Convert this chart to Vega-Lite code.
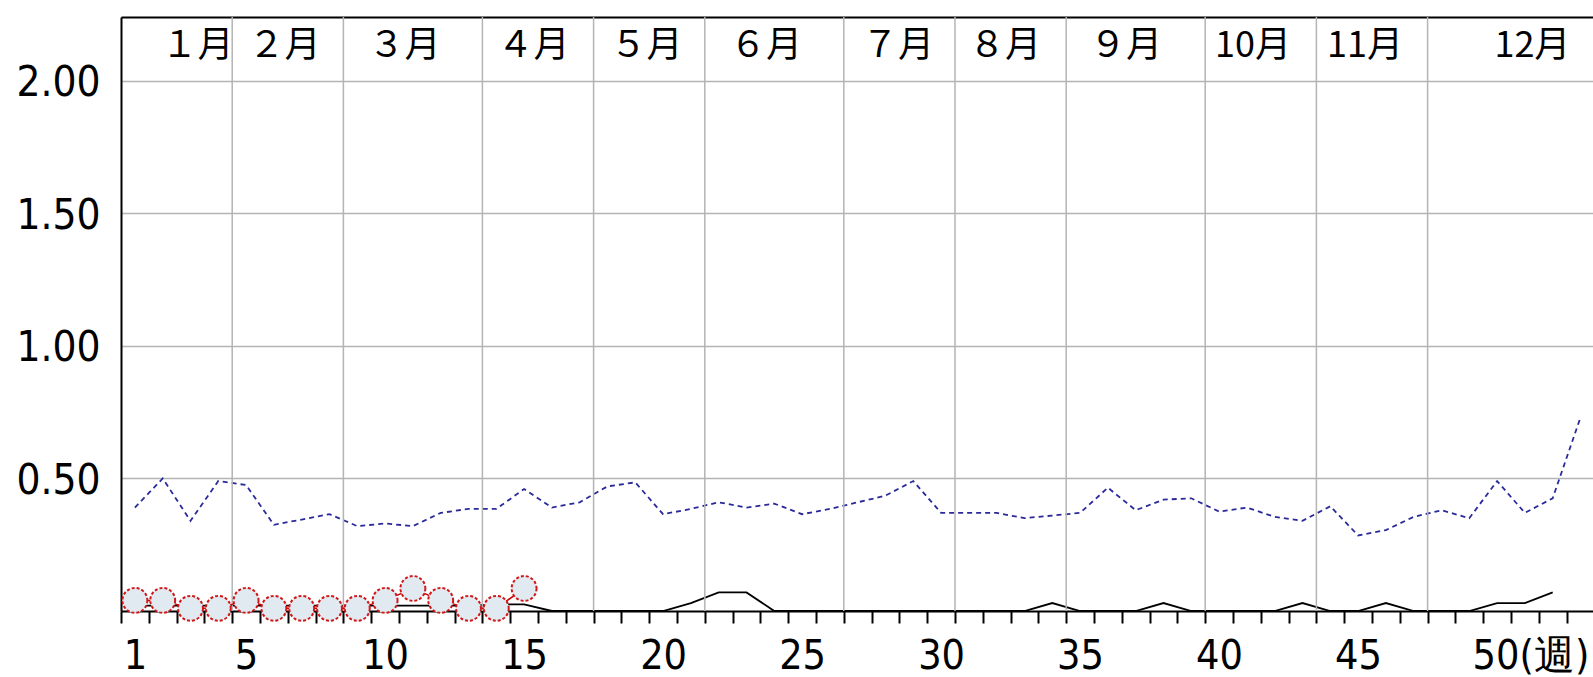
{
  "$schema": "https://vega.github.io/schema/vega-lite/v6.json",
  "width": 1472,
  "height": 594,
  "autosize": "none",
  "padding": {"left": 121, "top": 17, "right": 0, "bottom": 66},
  "background": "white",
  "config": {"view": {"stroke": null}, "axis": {"labelOverlap": false, "labelFlush": false}},
  "resolve": {"axis": {"x": "independent"}},
  "datasets": {
    "weekly": [
      {"week": 1, "avg": 0.39, "prev": 0.02},
      {"week": 2, "avg": 0.50, "prev": 0.02},
      {"week": 3, "avg": 0.34, "prev": 0.02},
      {"week": 4, "avg": 0.49, "prev": 0.02},
      {"week": 5, "avg": 0.475, "prev": 0.02},
      {"week": 6, "avg": 0.325, "prev": 0.02},
      {"week": 7, "avg": 0.345, "prev": 0.02},
      {"week": 8, "avg": 0.365, "prev": 0.02},
      {"week": 9, "avg": 0.32, "prev": 0.02},
      {"week": 10, "avg": 0.33, "prev": 0.02},
      {"week": 11, "avg": 0.32, "prev": 0.02},
      {"week": 12, "avg": 0.37, "prev": 0.02},
      {"week": 13, "avg": 0.385, "prev": 0.02},
      {"week": 14, "avg": 0.385, "prev": 0.025},
      {"week": 15, "avg": 0.46, "prev": 0.025},
      {"week": 16, "avg": 0.39, "prev": 0},
      {"week": 17, "avg": 0.41, "prev": 0},
      {"week": 18, "avg": 0.47, "prev": 0},
      {"week": 19, "avg": 0.485, "prev": 0},
      {"week": 20, "avg": 0.365, "prev": 0},
      {"week": 21, "avg": 0.385, "prev": 0.03},
      {"week": 22, "avg": 0.41, "prev": 0.07},
      {"week": 23, "avg": 0.39, "prev": 0.07},
      {"week": 24, "avg": 0.405, "prev": 0},
      {"week": 25, "avg": 0.365, "prev": 0},
      {"week": 26, "avg": 0.385, "prev": 0},
      {"week": 27, "avg": 0.41, "prev": 0},
      {"week": 28, "avg": 0.435, "prev": 0},
      {"week": 29, "avg": 0.49, "prev": 0},
      {"week": 30, "avg": 0.37, "prev": 0},
      {"week": 31, "avg": 0.37, "prev": 0},
      {"week": 32, "avg": 0.37, "prev": 0},
      {"week": 33, "avg": 0.35, "prev": 0},
      {"week": 34, "avg": 0.36, "prev": 0.03},
      {"week": 35, "avg": 0.37, "prev": 0},
      {"week": 36, "avg": 0.465, "prev": 0},
      {"week": 37, "avg": 0.38, "prev": 0},
      {"week": 38, "avg": 0.42, "prev": 0.03},
      {"week": 39, "avg": 0.425, "prev": 0},
      {"week": 40, "avg": 0.375, "prev": 0},
      {"week": 41, "avg": 0.39, "prev": 0},
      {"week": 42, "avg": 0.355, "prev": 0},
      {"week": 43, "avg": 0.34, "prev": 0.03},
      {"week": 44, "avg": 0.395, "prev": 0},
      {"week": 45, "avg": 0.285, "prev": 0},
      {"week": 46, "avg": 0.305, "prev": 0.03},
      {"week": 47, "avg": 0.355, "prev": 0},
      {"week": 48, "avg": 0.38, "prev": 0},
      {"week": 49, "avg": 0.35, "prev": 0},
      {"week": 50, "avg": 0.49, "prev": 0.03},
      {"week": 51, "avg": 0.37, "prev": 0.03},
      {"week": 52, "avg": 0.425, "prev": 0.07},
      {"week": 53, "avg": 0.73, "prev": null}
    ],
    "current": [
      {"week": 1, "value": 0.04},
      {"week": 2, "value": 0.04},
      {"week": 3, "value": 0.01},
      {"week": 4, "value": 0.01},
      {"week": 5, "value": 0.04},
      {"week": 6, "value": 0.01},
      {"week": 7, "value": 0.01},
      {"week": 8, "value": 0.01},
      {"week": 9, "value": 0.01},
      {"week": 10, "value": 0.04},
      {"week": 11, "value": 0.085},
      {"week": 12, "value": 0.04},
      {"week": 13, "value": 0.01},
      {"week": 14, "value": 0.01},
      {"week": 15, "value": 0.085}
    ],
    "months": [
      {"month": "１月", "end": 4.5, "labelWeek": 3.25},
      {"month": "２月", "end": 8.5, "labelWeek": 6.38},
      {"month": "３月", "end": 13.5, "labelWeek": 10.7},
      {"month": "４月", "end": 17.5, "labelWeek": 15.34},
      {"month": "５月", "end": 21.5, "labelWeek": 19.4},
      {"month": "６月", "end": 26.5, "labelWeek": 23.7},
      {"month": "７月", "end": 30.5, "labelWeek": 28.45},
      {"month": "８月", "end": 34.5, "labelWeek": 32.3},
      {"month": "９月", "end": 39.5, "labelWeek": 36.65},
      {"month": "10月", "end": 43.5, "labelWeek": 41.22},
      {"month": "11月", "end": 47.5, "labelWeek": 45.25},
      {"month": "12月", "end": null, "labelWeek": 51.27}
    ]
  },
  "layer": [
    {
      "data": {"name": "weekly"},
      "mark": {"type": "line", "color": "#2a2a9a", "strokeWidth": 1.8, "strokeDash": [5, 4]},
      "encoding": {
        "x": {
          "field": "week", "type": "quantitative",
          "scale": {"domain": [0.5, 53.45], "nice": false, "zero": false},
          "axis": {
            "orient": "bottom",
            "title": null,
            "values": [0.5,1.5,2.5,3.5,4.5,5.5,6.5,7.5,8.5,9.5,10.5,11.5,12.5,13.5,14.5,15.5,16.5,17.5,18.5,19.5,20.5,21.5,22.5,23.5,24.5,25.5,26.5,27.5,28.5,29.5,30.5,31.5,32.5,33.5,34.5,35.5,36.5,37.5,38.5,39.5,40.5,41.5,42.5,43.5,44.5,45.5,46.5,47.5,48.5,49.5,50.5,51.5,52.5],
            "grid": false,
            "domain": true, "domainColor": "#000000", "domainWidth": 2,
            "ticks": true, "tickColor": "#000000", "tickWidth": 2, "tickSize": 12,
            "labels": false
          }
        },
        "y": {
          "field": "avg", "type": "quantitative",
          "scale": {"domain": [0, 2.24], "nice": false, "zero": false},
          "axis": {
            "title": null,
            "values": [0.5, 1, 1.5, 2, 2.24],
            "grid": true,
            "gridColor": {"condition": {"test": "datum.value > 2.2", "value": "#000000"}, "value": "#b4b4b4"},
            "gridWidth": {"condition": {"test": "datum.value > 2.2", "value": 2}, "value": 1.5},
            "ticks": false,
            "tickSize": 0,
            "domain": true, "domainColor": "#000000", "domainWidth": 2,
            "labelExpr": "datum.value > 2.2 ? '' : format(datum.value, '.2f')",
            "labelFont": "DejaVu Sans Condensed, sans-serif",
            "labelFontSize": 42,
            "labelColor": "#000000",
            "labelPadding": 21,
            "labelOffset": 2,
            "labelOverlap": false,
            "labelFlush": false
          }
        }
      }
    },
    {
      "data": {"name": "weekly"},
      "mark": {"type": "line", "color": "#000000", "strokeWidth": 1.8},
      "encoding": {
        "x": {
          "field": "week", "type": "quantitative",
          "scale": {"domain": [0.5, 53.45], "nice": false, "zero": false},
          "axis": {
            "orient": "bottom",
            "title": null,
            "values": [1, 5, 10, 15, 20, 25, 30, 35, 40, 45, 50],
            "grid": false,
            "domain": false,
            "ticks": false,
            "tickSize": 12,
            "labelExpr": "datum.value == 50 ? '50(週)' : datum.label",
            "labelFont": "DejaVu Sans Condensed, sans-serif",
            "labelFontSize": 41,
            "labelColor": "#000000",
            "labelPadding": 25,
            "labelOverlap": false,
            "labelFlush": false,
            "labelBound": false,
            "labelAlign": {"condition": {"test": "datum.value == 50", "value": "left"}, "value": "center"},
            "labelOffset": {"condition": {"test": "datum.value == 50", "value": -25}, "value": 0}
          }
        },
        "y": {"field": "prev", "type": "quantitative", "scale": {"domain": [0, 2.24], "nice": false, "zero": false}, "axis": {"title": null}}
      }
    },
    {
      "data": {"name": "months"},
      "transform": [{"filter": "datum.end != null"}],
      "mark": {"type": "rule", "color": "#b4b4b4", "strokeWidth": 1.5},
      "encoding": {
        "x": {"field": "end", "type": "quantitative", "scale": {"domain": [0.5, 53.45], "nice": false, "zero": false}, "axis": null}
      }
    },
    {
      "data": {"name": "current"},
      "mark": {"type": "line", "color": "#cc0000", "strokeWidth": 1.5},
      "encoding": {
        "x": {"field": "week", "type": "quantitative", "scale": {"domain": [0.5, 53.45], "nice": false, "zero": false}, "axis": null},
        "y": {"field": "value", "type": "quantitative", "scale": {"domain": [0, 2.24], "nice": false, "zero": false}, "axis": {"title": null}}
      }
    },
    {
      "data": {"name": "current"},
      "mark": {"type": "point", "shape": "circle", "filled": false, "fill": "#e1e9f1", "fillOpacity": 1, "stroke": "#d01818", "strokeWidth": 2, "strokeDash": [3, 2], "size": 620, "opacity": 1},
      "encoding": {
        "x": {"field": "week", "type": "quantitative", "scale": {"domain": [0.5, 53.45], "nice": false, "zero": false}, "axis": null},
        "y": {"field": "value", "type": "quantitative", "scale": {"domain": [0, 2.24], "nice": false, "zero": false}, "axis": {"title": null}}
      }
    },
    {
      "data": {"name": "months"},
      "mark": {"type": "text", "font": "Noto Sans CJK JP", "fontSize": 36, "color": "#000000", "align": "center", "baseline": "middle"},
      "encoding": {
        "x": {"field": "labelWeek", "type": "quantitative", "scale": {"domain": [0.5, 53.45], "nice": false, "zero": false}, "axis": null},
        "y": {"datum": 2.13, "type": "quantitative", "scale": {"domain": [0, 2.24], "nice": false, "zero": false}, "axis": {"title": null}},
        "text": {"field": "month"}
      }
    }
  ]
}
